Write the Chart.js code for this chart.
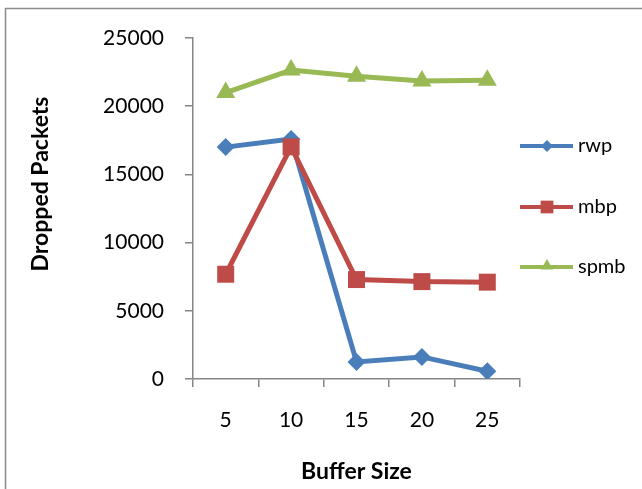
<!DOCTYPE html>
<html>
<head>
<meta charset="utf-8">
<script src="https://cdn.jsdelivr.net/npm/chart.js@4/dist/chart.umd.min.js"></script>
<style>
html,body{margin:0;padding:0;background:#fff;}
canvas{display:block;}
</style>
</head>
<body>
<canvas id="c" width="642" height="489"></canvas>
<script>
const categories = ['5', '10', '15', '20', '25'];
const rwp  = [17000, 17600, 1250, 1620, 570];
const mbp  = [7680, 17020, 7290, 7140, 7100];
const spmb = [21000, 22650, 22200, 21850, 21900];
const yTicks = [0, 5000, 10000, 15000, 20000, 25000];
const seriesNames = ['rwp', 'mbp', 'spmb'];
const xTitle = 'Buffer Size';
const yTitle = 'Dropped Packets';

const FONT = 'Lato, "Open Sans", sans-serif';
const AXIS = '#868686';

const framePlugin = {
  id: 'frame',
  beforeDraw(chart) {
    const ctx = chart.ctx;
    ctx.save();
    ctx.fillStyle = '#fff';
    ctx.fillRect(0, 0, chart.width, chart.height);
    ctx.strokeStyle = '#8c8c8c';
    ctx.lineWidth = 1.5;
    ctx.strokeRect(5.5, 8.5, 700, 600);
    ctx.restore();
  },
  afterDraw(chart) {
    const ctx = chart.ctx;
    ctx.save();
    ctx.fillStyle = '#000';
    ctx.font = 'bold 23px ' + FONT;
    ctx.textAlign = 'center';
    ctx.textBaseline = 'middle';
    ctx.translate(41, 184);
    ctx.rotate(-Math.PI / 2);
    ctx.fillText(yTitle, 0, 0);
    ctx.restore();
  }
};

const legendPlugin = {
  id: 'sideLegend',
  afterDraw(chart) {
    const ctx = chart.ctx;
    const ys = [146, 207, 267];
    ctx.save();
    chart.data.datasets.forEach((ds, i) => {
      const y = ys[i];
      ctx.strokeStyle = ds.borderColor;
      ctx.lineWidth = 4;
      ctx.beginPath();
      ctx.moveTo(520, y);
      ctx.lineTo(573, y);
      ctx.stroke();
      ctx.fillStyle = ds.borderColor;
      ctx.strokeStyle = ds.borderColor;
      ctx.lineWidth = 0;
      Chart.helpers.drawPoint(ctx, {
        pointStyle: ds.pointStyle,
        rotation: 0,
        radius: ds.legendRadius,
        borderWidth: 0
      }, 547, y + (ds.pointStyle === 'triangle' ? -1 : 0));
      ctx.fillStyle = '#000';
      ctx.font = '20px ' + FONT;
      ctx.textBaseline = 'middle';
      ctx.textAlign = 'left';
      ctx.fillText(ds.label, 578, y);
    });
    ctx.restore();
  }
};

new Chart(document.getElementById('c'), {
  type: 'line',
  data: {
    labels: categories,
    datasets: [
      { label: seriesNames[0], data: rwp, borderColor: '#4a7ebb', backgroundColor: '#4a7ebb',
        pointStyle: 'rectRot', pointRadius: 9, legendRadius: 6, order: 3 },
      { label: seriesNames[1], data: mbp, borderColor: '#be4b48', backgroundColor: '#be4b48',
        pointStyle: 'rect', pointRadius: 12, legendRadius: 9, order: 2 },
      { label: seriesNames[2], data: spmb, borderColor: '#98b954', backgroundColor: '#98b954',
        pointStyle: 'triangle', pointRadius: 11, legendRadius: 7, order: 1 }
    ].map(d => Object.assign(d, {
      borderWidth: 5, tension: 0, pointBorderWidth: 0, pointHoverRadius: d.pointRadius
    }))
  },
  options: {
    responsive: false,
    animation: false,
    events: [],
    layout: { padding: { left: 0, right: 122, top: 38, bottom: 0 } },
    plugins: { legend: { display: false }, tooltip: { enabled: false } },
    scales: {
      x: {
        type: 'category',
        offset: true,
        grid: { display: true, offset: true, drawOnChartArea: false, drawTicks: true,
                tickLength: 8, color: AXIS, lineWidth: 1.5 },
        border: { display: true, color: AXIS, width: 1.5 },
        ticks: { color: '#000', font: { family: FONT, size: 21 }, padding: 21, maxRotation: 0 },
        title: { display: true, text: xTitle, color: '#000',
                 font: { family: FONT, size: 23, weight: 'bold' }, padding: { top: 0, bottom: 4 } },
        afterFit(s) { s.height = 110; }
      },
      y: {
        min: 0, max: 25000,
        afterBuildTicks(s) { s.ticks = yTicks.map(v => ({ value: v })); },
        grid: { display: true, drawOnChartArea: false, drawTicks: true,
                tickLength: 8, color: AXIS, lineWidth: 1.5 },
        border: { display: true, color: AXIS, width: 1.5 },
        ticks: { color: '#000', font: { family: FONT, size: 21 }, padding: 21,
                 callback: v => String(v) },
        title: { display: false },
        afterFit(s) { s.width = 193; }
      }
    }
  },
  plugins: [framePlugin, legendPlugin]
});
</script>
</body>
</html>
